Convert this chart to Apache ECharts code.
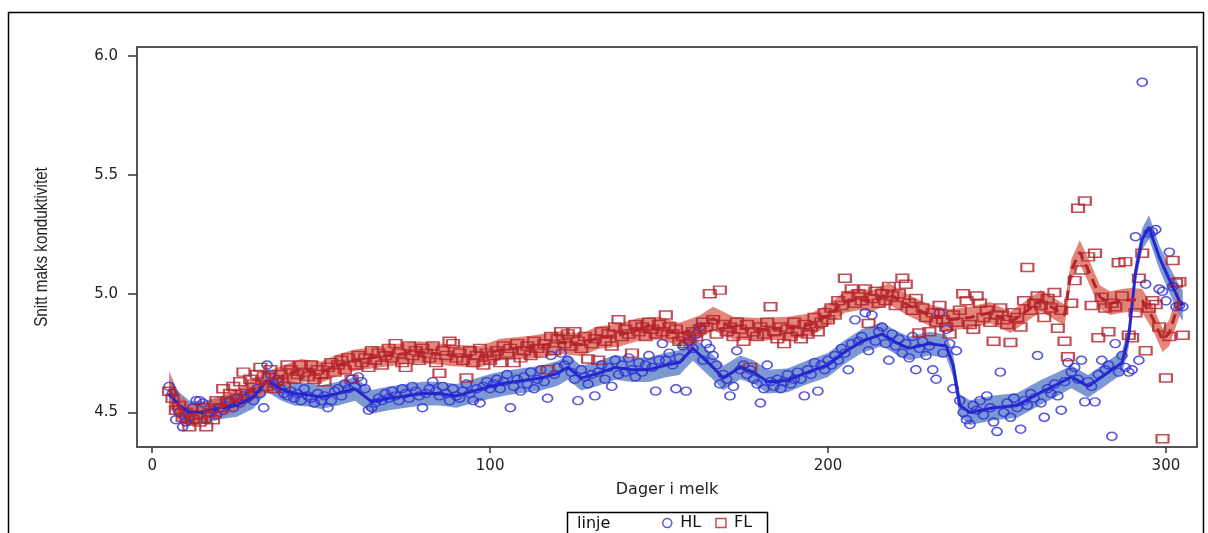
<!DOCTYPE html>
<html><head><meta charset="utf-8">
<script src="https://cdn.jsdelivr.net/npm/echarts@6/dist/echarts.min.js"></script>
<style>html,body{margin:0;padding:0;background:#fff}#c{width:1208px;height:533px}</style>
</head><body><div id="c"></div>
<script>
// ---- data ----
const firstDay = 5; // first day in milk with observations
const hlValues = [
4.61,4.58,4.47,4.50,4.44,4.46,4.48,4.52,4.55,4.55,4.54,
4.47,4.50,4.51,4.49,4.52,4.51,4.53,4.55,4.52,4.56,
4.54,4.57,4.56,4.58,4.55,
4.60,4.58,4.52,4.70,4.66,4.62,4.64,4.60,4.58,4.57,
4.59,4.56,4.58,4.55,4.60,4.57,4.56,4.54,4.58,4.55,
4.57,4.52,4.55,4.59,4.60,4.57,4.62,4.60,4.64,4.61,
4.65,4.63,4.60,4.51,4.52,4.54,4.56,4.55,4.58,4.56,
4.59,4.57,4.55,4.60,4.58,4.56,4.61,4.59,4.57,4.52,
4.58,4.60,4.63,4.59,4.57,4.61,4.58,4.55,4.60,4.57,
4.56,4.59,4.62,4.58,4.55,4.60,4.54,4.61,4.63,4.60,
4.62,4.64,4.60,4.63,4.66,4.52,4.61,4.64,4.59,4.65,
4.62,4.67,4.60,4.64,4.68,4.63,4.56,4.74,4.66,4.69,
4.75,4.70,4.72,4.67,4.64,4.55,4.68,4.65,4.62,4.66,
4.57,4.67,4.70,4.64,4.69,4.61,4.72,4.66,4.70,4.67,
4.73,4.68,4.65,4.71,4.67,4.70,4.74,4.69,4.59,4.72,
4.79,4.72,4.75,4.70,4.60,4.73,4.78,4.59,4.80,4.77,
4.83,4.86,4.72,4.79,4.77,4.74,4.70,4.62,4.66,4.64,
4.57,4.61,4.76,4.68,4.70,4.66,4.68,4.64,4.62,4.54,
4.60,4.70,4.63,4.61,4.64,4.60,4.63,4.66,4.62,4.64,
4.67,4.64,4.57,4.68,4.66,4.71,4.59,4.70,4.68,4.72,
4.70,4.74,4.72,4.77,4.75,4.68,4.79,4.89,4.80,4.82,
4.92,4.76,4.91,4.80,4.84,4.86,4.79,4.72,4.83,4.78,
4.81,4.75,4.79,4.73,4.82,4.68,4.77,4.80,4.74,4.78,
4.68,4.64,4.92,4.75,4.85,4.79,4.60,4.76,4.55,4.50,
4.47,4.45,4.53,4.51,4.55,4.49,4.57,4.52,4.46,4.42,
4.67,4.50,4.54,4.48,4.56,4.52,4.43,4.55,4.53,4.58,
4.56,4.74,4.54,4.48,4.60,4.58,4.62,4.57,4.51,4.63,
4.71,4.67,4.69,4.64,4.72,4.545,4.63,4.61,4.545,4.66,
4.72,4.68,4.70,4.40,4.79,4.67,4.74,4.69,4.67,4.68,
5.24,4.72,5.89,5.04,5.255,5.26,5.27,5.02,5.01,4.97,
5.175,5.03,4.945,4.95,4.945
];
const flValues = [
4.59,4.56,4.51,4.53,4.48,4.50,4.44,4.47,4.49,4.46,4.52,
4.44,4.50,4.47,4.55,4.52,4.60,4.54,4.58,4.61,4.56,
4.63,4.67,4.58,4.64,4.62,4.66,4.69,4.65,4.61,4.68,
4.60,4.63,4.66,4.61,4.70,4.68,4.64,4.66,4.70,4.67,
4.65,4.70,4.64,4.68,4.66,
4.63,4.69,4.71,4.67,4.70,4.72,4.68,4.73,4.64,4.70,
4.74,4.71,4.73,4.69,4.76,4.72,4.75,4.70,4.74,4.77,
4.73,4.79,4.75,4.71,4.69,4.78,4.74,4.76,4.72,4.77,
4.75,4.73,4.78,4.71,4.665,4.76,4.74,4.80,4.79,4.73,
4.75,4.72,4.645,4.76,4.71,4.74,4.77,4.70,4.75,4.72,
4.74,4.76,4.71,4.78,4.75,4.77,4.71,4.79,4.73,4.76,
4.78,4.74,4.80,4.77,4.75,4.79,4.68,4.82,4.76,4.81,
4.84,4.79,4.83,4.78,4.84,4.80,4.77,4.82,4.725,4.79,
4.81,4.72,4.84,4.80,4.83,4.78,4.86,4.89,4.82,4.85,
4.83,4.75,4.87,4.84,4.86,4.82,4.88,4.85,4.83,4.87,
4.84,4.91,4.86,4.83,4.85,4.80,4.82,4.79,4.81,4.84,
4.82,4.85,4.88,4.86,5.00,4.89,4.83,5.015,4.87,4.84,
4.86,4.82,4.88,4.85,4.80,4.87,4.69,4.84,4.82,4.86,
4.83,4.88,4.945,4.84,4.81,4.86,4.79,4.85,4.82,4.88,
4.84,4.81,4.87,4.83,4.86,4.90,4.84,4.88,4.92,4.89,
4.94,4.91,4.97,4.95,5.065,4.99,5.02,4.96,5.00,4.97,
5.02,4.875,4.98,5.01,4.96,5.00,4.97,5.03,4.99,4.95,
5.00,5.065,5.04,4.96,4.93,4.98,4.835,4.94,4.90,4.84,
4.92,4.88,4.95,4.89,4.86,4.83,4.91,4.88,4.93,5.00,
4.97,4.87,4.85,4.99,4.96,4.90,4.93,4.88,4.80,4.91,
4.94,4.89,4.87,4.795,4.92,4.90,4.86,4.97,5.11,4.93,
4.96,4.99,4.95,4.90,4.98,4.94,5.005,4.855,4.93,4.80,
4.735,4.96,5.055,5.36,5.10,5.39,5.155,4.95,5.17,4.815,
4.985,4.94,4.84,4.96,4.945,5.13,4.99,5.135,4.825,4.815,
4.92,5.065,5.17,4.76,4.94,4.97,4.955,4.86,4.39,4.645,
4.82,5.14,5.045,5.05,4.825
];
// fitted curves with confidence half-widths
const hlFitDays = [5,8,11,15,20,25,30,34,38,42,46,50,55,60,65,70,75,80,85,90,95,100,105,110,115,120,123,127,132,137,142,147,152,156,160,166,169,174,178,182,188,194,200,205,210,216,220,224,230,235,237,239,242,249,256,263,268,272,277,282,287,289,291,293,295,298,301,304,305];
const hlFit = [4.58,4.53,4.50,4.50,4.52,4.53,4.565,4.635,4.60,4.58,4.575,4.565,4.58,4.60,4.545,4.56,4.57,4.58,4.58,4.57,4.59,4.61,4.625,4.635,4.645,4.665,4.69,4.645,4.665,4.69,4.68,4.68,4.70,4.71,4.77,4.69,4.645,4.69,4.67,4.63,4.635,4.67,4.70,4.755,4.80,4.83,4.795,4.77,4.79,4.78,4.70,4.53,4.50,4.52,4.53,4.585,4.62,4.65,4.61,4.66,4.71,4.82,5.09,5.23,5.28,5.155,5.06,4.97,4.95];
const hlHalf = [0.06,0.055,0.05,0.048,0.048,0.048,0.048,0.048,0.048,0.05,0.05,0.05,0.05,0.05,0.05,0.05,0.05,0.05,0.05,0.05,0.05,0.052,0.052,0.052,0.052,0.052,0.052,0.052,0.052,0.052,0.052,0.052,0.052,0.052,0.052,0.052,0.052,0.05,0.05,0.05,0.05,0.05,0.05,0.05,0.05,0.05,0.05,0.05,0.05,0.048,0.048,0.048,0.052,0.052,0.052,0.052,0.05,0.048,0.048,0.048,0.048,0.045,0.045,0.045,0.05,0.05,0.055,0.065,0.065];
const flFitDays = [5,8,11,16,20,26,32,38,44,50,55,60,65,70,79,89,97,103,112,121,127,132,138,144,150,156,162,166,172,180,188,195,200,205,209,213,218,224,230,236,242,248,251,254,260,263,266,270,272,274.5,277.5,280.5,283.5,287,290,293,296,299,301,304];
const flFit = [4.60,4.52,4.49,4.50,4.52,4.56,4.615,4.65,4.68,4.67,4.70,4.72,4.73,4.74,4.755,4.74,4.735,4.765,4.775,4.795,4.785,4.815,4.825,4.85,4.855,4.83,4.86,4.895,4.855,4.85,4.855,4.87,4.91,4.965,4.975,4.97,5.00,4.95,4.91,4.89,4.90,4.92,4.90,4.88,4.94,4.97,4.945,4.91,5.10,5.175,5.085,4.985,4.96,4.97,4.975,4.97,4.90,4.805,4.835,4.97];
const flHalf = [0.075,0.055,0.048,0.045,0.045,0.045,0.045,0.045,0.045,0.045,0.045,0.045,0.045,0.045,0.045,0.045,0.045,0.045,0.048,0.048,0.048,0.048,0.048,0.048,0.048,0.048,0.048,0.05,0.048,0.048,0.048,0.048,0.045,0.045,0.045,0.045,0.045,0.045,0.045,0.045,0.045,0.045,0.045,0.045,0.045,0.045,0.045,0.045,0.045,0.05,0.05,0.05,0.05,0.05,0.05,0.05,0.05,0.05,0.055,0.065];
const xTicks = [0, 100, 200, 300];
const yTicks = [4.5, 5.0, 5.5, 6.0];
const seriesNames = ['HL', 'FL'];

// ---- chart ----
const FONT = 'DejaVu Sans, Verdana, sans-serif';
const BLUE = '#2d2dd6', RED = '#b3202c';
const toPts = (vals) => vals.map((v, i) => [firstDay + i, v]);
const pairs = (days, vals) => days.map((d, i) => [d, vals[i]]);

function bandSeries(name, days, fit, half, color) {
  return {
    type: 'custom', name: name, silent: true, z: 1, clip: true,
    data: [[days[0], fit[0]]],
    renderItem: function (params, api) {
      const up = days.map((d, i) => api.coord([d, fit[i] + half[i]]));
      const lo = days.map((d, i) => api.coord([d, fit[i] - half[i]])).reverse();
      return {type: 'polygon', shape: {points: up.concat(lo)}, style: {fill: color}};
    }
  };
}

const chart = echarts.init(document.getElementById('c'), null, {renderer: 'canvas'});
chart.setOption({
  animation: false,
  backgroundColor: '#fff',
  grid: {left: 137, right: 11, top: 47, bottom: 86, show: true, borderColor: '#555', borderWidth: 2, backgroundColor: 'transparent'},
  xAxis: {
    type: 'value', min: -4.5, max: 309.2,
    name: 'Dager i melk', nameLocation: 'middle', nameGap: 35,
    nameTextStyle: {fontFamily: FONT, fontSize: 16, color: '#222'},
    axisLine: {show: false, onZero: false}, splitLine: {show: false},
    axisTick: {show: true, length: 6, lineStyle: {color: '#333', width: 1.5}, customValues: xTicks},
    axisLabel: {customValues: xTicks, margin: 12, fontFamily: FONT, fontSize: 15, color: '#222'}
  },
  yAxis: {
    type: 'value', min: 4.355, max: 6.038,
    axisLine: {show: false, onZero: false}, splitLine: {show: false},
    axisTick: {show: true, length: 9, lineStyle: {color: '#333', width: 1.5}, customValues: yTicks},
    axisLabel: {customValues: yTicks, margin: 19, fontFamily: FONT, fontSize: 15, color: '#222', formatter: v => v.toFixed(1)}
  },
  legend: {
    data: [
      {name: 'HL', icon: 'circle', itemStyle: {color: 'transparent', borderColor: BLUE, borderWidth: 1.5}},
      {name: 'FL', icon: 'rect', itemStyle: {color: 'transparent', borderColor: RED, borderWidth: 1.5}}
    ],
    left: 657, top: 510, itemWidth: 10, itemHeight: 9, itemGap: 14,
    textStyle: {fontFamily: FONT, fontSize: 16, color: '#111', padding: [0, 0, 0, 3]},
    selectedMode: false
  },
  graphic: [
    {type: 'rect', shape: {x: 8.5, y: 12.5, width: 1195, height: 540}, style: {fill: 'none', stroke: '#000', lineWidth: 1.5}, silent: true},
    {type: 'rect', shape: {x: 567.5, y: 512.5, width: 200, height: 30}, style: {fill: 'none', stroke: '#000', lineWidth: 1.5}, silent: true},
    {type: 'text', x: 577, y: 524, style: {text: 'linje', font: '16px ' + FONT, fill: '#111', verticalAlign: 'middle'}, silent: true},
    {type: 'text', x: 42, y: 247, rotation: Math.PI / 2, scaleX: 0.8,
      style: {text: 'Snitt maks konduktivitet', font: '19px Liberation Sans, Arial, sans-serif', fill: '#222', align: 'center', verticalAlign: 'middle'}, silent: true}
  ],
  series: [
    bandSeries('hlBand', hlFitDays, hlFit, hlHalf, 'rgba(92,128,198,0.8)'),
    bandSeries('flBand', flFitDays, flFit, flHalf, 'rgba(216,100,82,0.78)'),
    {type: 'scatter', name: seriesNames[0], data: toPts(hlValues), symbol: 'circle', symbolSize: [10, 8],
      itemStyle: {color: 'transparent', borderColor: BLUE, borderWidth: 1.6}, z: 3},
    {type: 'scatter', name: seriesNames[1], data: toPts(flValues), symbol: 'rect', symbolSize: [12, 8],
      itemStyle: {color: 'transparent', borderColor: RED, borderWidth: 1.8}, z: 3},
    {type: 'line', name: 'hlFit', data: pairs(hlFitDays, hlFit), symbol: 'none', lineStyle: {color: '#2626cf', width: 3}, silent: true, z: 4},
    {type: 'line', name: 'flFit', data: pairs(flFitDays, flFit), symbol: 'none', lineStyle: {color: '#b7232b', width: 3, type: [10, 6]}, silent: true, z: 4}
  ]
});
</script></body></html>
